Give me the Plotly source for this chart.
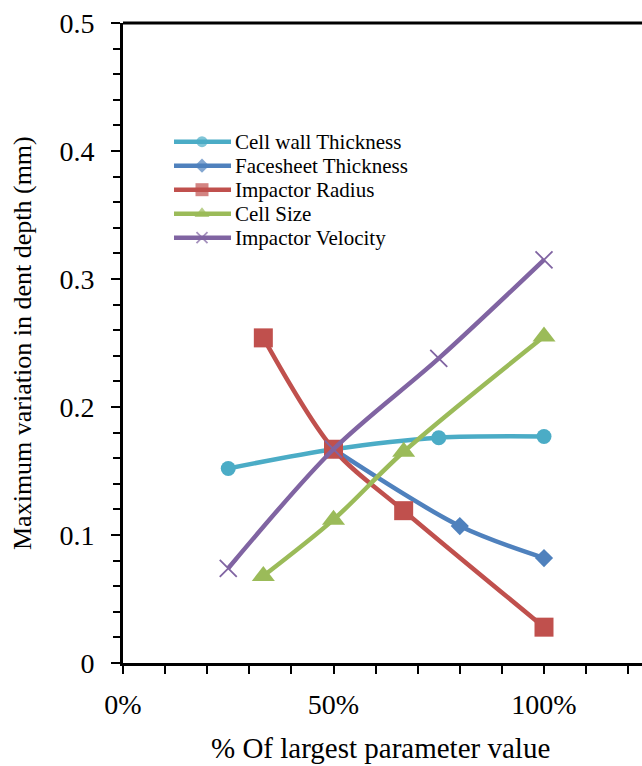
import plotly.graph_objects as go

FONT = "Liberation Serif"

# ---- data: % of largest parameter value vs. max variation in dent depth (mm)
series_names = ["Cell wall Thickness", "Facesheet Thickness", "Impactor Radius",
                "Cell Size", "Impactor Velocity"]

cell_wall_x = [0.25, 0.50, 0.75, 1.00]
cell_wall_y = [0.152, 0.167, 0.176, 0.177]

facesheet_x = [0.50, 0.80, 1.00]
facesheet_y = [0.167, 0.107, 0.082]

radius_x = [1 / 3, 0.50, 2 / 3, 1.00]
radius_y = [0.254, 0.167, 0.119, 0.028]

cell_size_x = [1 / 3, 0.50, 2 / 3, 1.00]
cell_size_y = [0.068, 0.112, 0.165, 0.255]

velocity_x = [0.25, 0.50, 0.75, 1.00]
velocity_y = [0.074, 0.167, 0.238, 0.315]

x_tick_vals = [0.0, 0.5, 1.0]
x_tick_text = ["0%", "50%", "100%"]
y_tick_vals = [0.0, 0.1, 0.2, 0.3, 0.4, 0.5]
y_tick_text = ["0", "0.1", "0.2", "0.3", "0.4", "0.5"]

# ---- styles (Office 2007 palette)
colors = ["#4BACC6", "#4F81BD", "#C0504D", "#9BBB59", "#8064A2"]
symbols = ["circle", "diamond", "square", "triangle-up", "x-thin"]
marker_sizes = [15, 14, 19, 20, 17]
legend_marker_sizes = [11, 11, 13, 13, 11]

xs = [cell_wall_x, facesheet_x, radius_x, cell_size_x, velocity_x]
ys = [cell_wall_y, facesheet_y, radius_y, cell_size_y, velocity_y]

# ---- geometry of the figure
W, H = 642, 766
ML, MR, MT, MB = 123, 0, 23, 103
PW, PH = W - ML - MR, H - MT - MB
PX_PER_UNIT = 421.0          # horizontal pixels per 100 %
X_MAX = PW / PX_PER_UNIT


def paper_x(px):
    return (px - ML) / PW


def paper_y(py):
    return (H - MB - py) / PH


def text_font(size):
    return dict(family=FONT, size=size, color="black")


def marker_style(i, size):
    if symbols[i] == "x-thin":
        return dict(symbol=symbols[i], size=size, color=colors[i],
                    line=dict(color=colors[i], width=1.8))
    return dict(symbol=symbols[i], size=size, color=colors[i],
                line=dict(width=0))


fig = go.Figure()

for i, name in enumerate(series_names):
    fig.add_trace(go.Scatter(
        x=xs[i], y=ys[i], name=name, mode="lines+markers",
        line=dict(color=colors[i], width=4.5, shape="spline", smoothing=0.9),
        marker=marker_style(i, marker_sizes[i]),
        showlegend=False, cliponaxis=False,
    ))

# ---- legend keys drawn on an overlay axis spanning the plot area
leg_x0, leg_xm, leg_x1, leg_text_x = 174, 202, 231, 233
leg_y0, leg_step = 141.7, 24.0
annotations = []
for i, name in enumerate(series_names):
    yy = paper_y(leg_y0 + i * leg_step)
    fig.add_trace(go.Scatter(
        x=[paper_x(leg_x0), paper_x(leg_xm), paper_x(leg_x1)], y=[yy, yy, yy],
        xaxis="x2", yaxis="y2", mode="lines+markers",
        line=dict(color=colors[i], width=4.5),
        marker=dict(marker_style(i, legend_marker_sizes[i]),
                    size=[0, legend_marker_sizes[i], 0]),
        showlegend=False, hoverinfo="skip", cliponaxis=False,
    ))
    annotations.append(dict(
        x=paper_x(leg_text_x), y=yy, xref="paper", yref="paper",
        text=name, showarrow=False, xanchor="left", yanchor="middle",
        font=text_font(21),
    ))

# axis titles
annotations.append(dict(
    x=paper_x(380), y=paper_y(748), xref="paper", yref="paper",
    text="% Of largest parameter value", showarrow=False,
    xanchor="center", yanchor="middle", font=text_font(29),
))
annotations.append(dict(
    x=paper_x(22), y=0.5, xref="paper", yref="paper",
    text="Maximum variation in dent depth (mm)", showarrow=False,
    textangle=-90, xanchor="center", yanchor="middle", font=text_font(26),
))

fig.update_layout(
    width=W, height=H,
    margin=dict(l=ML, r=MR, t=MT, b=MB, pad=0),
    paper_bgcolor="white", plot_bgcolor="white",
    showlegend=False,
    annotations=annotations,
    shapes=[dict(type="line", xref="paper", yref="paper",
                 x0=0, x1=1, y0=1, y1=1,
                 line=dict(color="black", width=3))],
    xaxis=dict(
        range=[0, X_MAX], showgrid=False, zeroline=False,
        showline=True, linecolor="black", linewidth=3,
        tickmode="array", tickvals=x_tick_vals, ticktext=x_tick_text,
        ticks="outside", ticklen=8, tickwidth=2, tickcolor="black",
        tickfont=text_font(28),
        ticklabelstandoff=6,
        minor=dict(dtick=0.1, tick0=0, ticks="outside", ticklen=8,
                   tickwidth=2, tickcolor="black", showgrid=False),
        fixedrange=True,
    ),
    yaxis=dict(
        range=[0, 0.5], showgrid=False, zeroline=False,
        showline=True, linecolor="black", linewidth=3,
        tickmode="array", tickvals=y_tick_vals, ticktext=y_tick_text,
        ticks="outside", ticklen=9, tickwidth=2, tickcolor="black",
        tickfont=text_font(28),
        ticklabelstandoff=11,
        minor=dict(dtick=0.02, tick0=0, ticks="outside", ticklen=7,
                   tickwidth=2, tickcolor="black", showgrid=False),
        fixedrange=True,
    ),
    xaxis2=dict(range=[0, 1], overlaying="x", anchor="y2", visible=False,
                fixedrange=True),
    yaxis2=dict(range=[0, 1], overlaying="y", anchor="x2", visible=False,
                fixedrange=True),
)

fig.write_html("out.html")
